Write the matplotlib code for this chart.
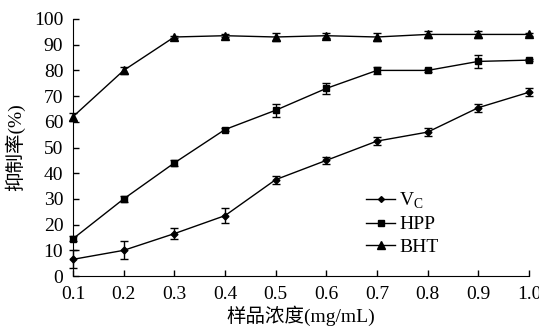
import numpy as np
import matplotlib
matplotlib.use('Agg')
import matplotlib.pyplot as plt
from matplotlib.lines import Line2D

plt.rcParams['font.family'] = ['Liberation Serif', 'Noto Sans CJK SC']

# Data
conc = [0.1, 0.2, 0.3, 0.4, 0.5, 0.6, 0.7, 0.8, 0.9, 1.0]
vc = [6.5, 10, 16.5, 23.5, 37.5, 45, 52.5, 56, 65.5, 71.5]
vc_err = [3.5, 3.5, 2, 3, 1.5, 1.5, 1.5, 1.5, 1.5, 1.5]
hpp = [14.5, 30, 44, 57, 64.5, 73, 80, 80, 83.5, 84]
hpp_err = [1, 1, 1, 0.5, 2.5, 2, 1.5, 0.5, 2.5, 0.5]
bht = [62, 80, 93, 93.5, 93, 93.5, 93, 94, 94, 94]
bht_err = [1.5, 1.5, 0.5, 0.5, 1.5, 1, 1.5, 1.5, 1.5, 0.5]

series = [
    (vc, vc_err, 'D', 3.5, 'V$_\\mathregular{C}$'),
    (hpp, hpp_err, 's', 5, 'HPP'),
    (bht, bht_err, '^', 6, 'BHT'),
]

fig = plt.figure(figsize=(5.39, 3.31), dpi=100)
ax = fig.add_axes([0.1354, 0.166, 0.846, 0.7766])

handles = []
for vals, err, mk, ms, name in series:
    ax.errorbar(conc, vals, yerr=err, color='black', lw=1.0, marker=mk, ms=ms,
                capsize=3, elinewidth=1.0, capthick=1.0, clip_on=False)
    handles.append(Line2D([], [], color='black', lw=1.0, marker=mk, ms=ms * 0.85, label=name))

ax.set_xlim(0.1, 1.0)
ax.set_ylim(0, 100)
ax.set_xticks(conc)
ax.set_xticklabels(['%.1f' % c for c in conc])
ax.set_yticks(np.arange(0, 101, 10))
ax.spines['top'].set_visible(False)
ax.spines['right'].set_visible(False)
ax.tick_params(direction='in', length=4, labelsize=14, width=1)
ax.tick_params(axis='y', pad=7)
ax.tick_params(axis='x', pad=7)
ax.set_xlabel('样品浓度(mg/mL)', fontsize=14, labelpad=2)
ax.set_ylabel('抑制率(%)', fontsize=14, labelpad=6)

ax.legend(handles=handles, loc='upper left', bbox_to_anchor=(0.622, 0.37), frameon=False,
          fontsize=14, handlelength=1.5, handletextpad=0.2, labelspacing=0.25,
          borderpad=0)

fig.savefig('out.png', dpi=100)
